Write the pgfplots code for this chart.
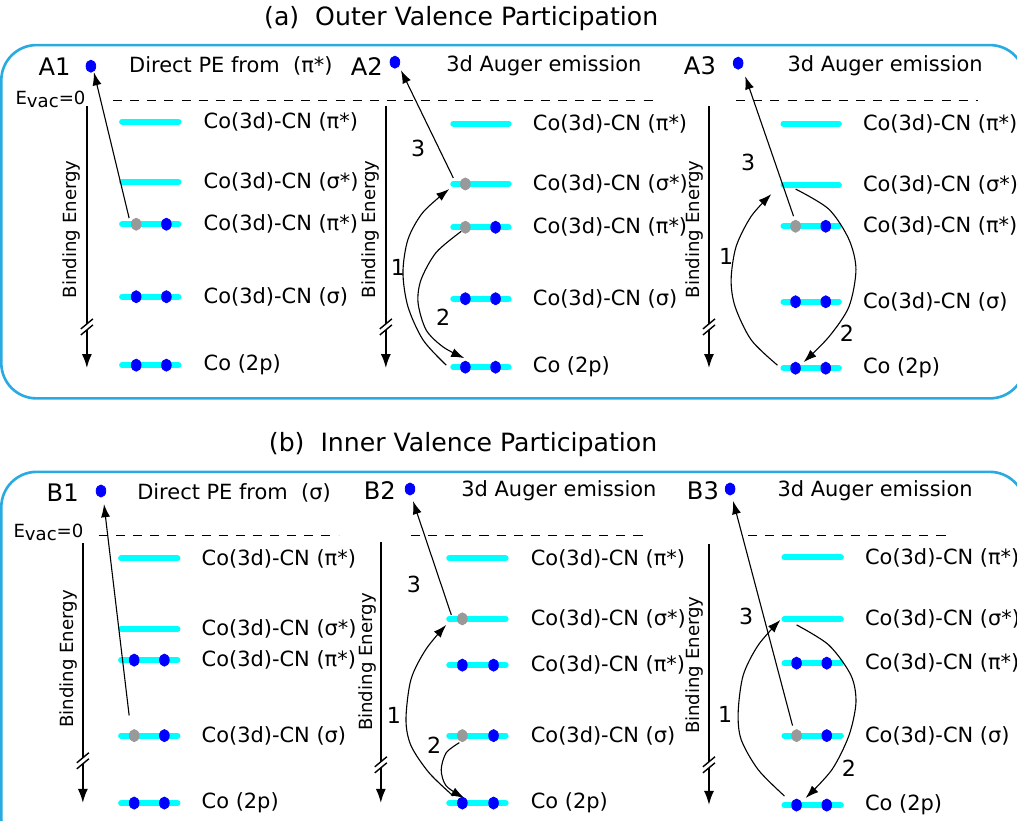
\documentclass[border=0pt]{standalone}
\usepackage{fontspec}
\setmainfont{DejaVu Sans}
\usepackage{pgfplots}
\usepackage{pgfplotstable}
\pgfplotsset{compat=1.18}
\usetikzlibrary{arrows.meta}
\definecolor{boxblue}{HTML}{29ABE2}
\definecolor{lvl}{HTML}{00FFFF}
\definecolor{eblue}{HTML}{0000FF}
\definecolor{hole}{HTML}{999999}

% energy levels: left end x, y, length (picture px, y down)
\pgfplotstableread{
x y w
128 123 56
128 183 56
128 225 56
128 297 56
128 365 56
457 125 55
457 185 55
457 228 55
457 299 55
457 367 55
785 125 55
785 186 55
785 227 55
785 302 55
785 368 55
127 557 56
127 627 56
127 658 56
127 733 56
127 800 56
453 557 56
453 617 56
453 663 56
453 733 56
453 800 56
786 556 56
786 617 56
786 661 56
786 733 56
786 802 56
}\levels

\pgfplotstableread{
x y
97 68
172 225
142 297
172 297
142 365
172 365
399 64
499 228
469 299
499 299
469 367
499 367
740 65
827 227
797 302
827 302
797 368
827 368
107 490
140 658
170 658
170 733
140 800
170 800
414 488
466 663
497 663
497 733
466 800
497 800
732 488
798 661
828 661
828 733
798 802
828 802
}\electrons

\pgfplotstableread{
x y
142 225
469 185
469 228
797 227
140 733
466 617
466 733
798 733
}\holes

% binding energy axes: x, top, length, break position
\pgfplotstableread{
x y len yb
93 108 260 327
390 108 260 327
711 108 260 327
89 542 258 758
385 541 259 762
711 543 259 762
}\baxes

\newcommand\lvfont{\fontsize{10.4}{12}\selectfont}
\newcommand\lbls[6]{%
  \node[anchor=west,font=\lvfont] at (#1,#2) {Co(3d)-CN (π*)};
  \node[anchor=west,font=\lvfont] at (#1,#3) {Co(3d)-CN (σ*)};
  \node[anchor=west,font=\lvfont] at (#1,#4) {Co(3d)-CN (π*)};
  \node[anchor=west,font=\lvfont] at (#1,#5) {Co(3d)-CN (σ)};
  \node[anchor=west,font=\lvfont] at (#1,#6) {Co (2p)};
}
\newcommand\be[2]{\node[rotate=90,font=\fontsize{9}{11}\selectfont] at (#1,#2) {Binding Energy};}
\newcommand\num[3]{\node[font=\fontsize{11}{13}\selectfont] at (#1,#2) {#3};}

\begin{document}
\begin{tikzpicture}
\begin{axis}[
  width=508.5pt, height=408.5pt, scale only axis,
  xmin=0, xmax=1017, ymin=0, ymax=817, y dir=reverse,
  hide axis, clip=true,
  thinarrow/.style={black, line width=0.55pt, -{Latex[length=6.5pt,width=4.5pt]}},
]
% frames
\addplot[boxblue, line width=1.3pt, rounded corners=17.5pt] coordinates {
  (500,47) (1025,47) (1025,398) (8,398) (8,47) (500,47)};
\addplot[boxblue, line width=1.3pt, rounded corners=17.5pt] coordinates {
  (500,471) (1025,471) (1025,850) (8,850) (8,471) (500,471)};

% vacuum level
\addplot[black, line width=0.6pt, dash pattern=on 4.5pt off 4pt] coordinates {(119,102) (655,102)};
\addplot[black, line width=0.6pt, dash pattern=on 4.5pt off 4pt] coordinates {(738,102) (978,102)};
\addplot[black, line width=0.6pt, dash pattern=on 4.5pt off 4pt] coordinates {(105,534) (343,534)};
\addplot[black, line width=0.6pt, dash pattern=on 4.5pt off 4pt] coordinates {(415,534) (652,534)};
\addplot[black, line width=0.6pt, dash pattern=on 4.5pt off 4pt] coordinates {(750,534) (952,534)};

% binding energy axes with break marks
\addplot[black, line width=1pt, -{Latex[length=7pt,width=5pt]},
  quiver={u=0, v=\thisrow{len}}, no markers] table \baxes;
\addplot[white, line width=2.2pt, quiver={u=12, v=-10}, no markers]
  table[x expr=\thisrow{x}-6, y expr=\thisrow{yb}+5] \baxes;
\addplot[black, line width=0.7pt, quiver={u=12, v=-10}, no markers]
  table[x expr=\thisrow{x}-6, y expr=\thisrow{yb}+8] \baxes;
\addplot[black, line width=0.7pt, quiver={u=12, v=-10}, no markers]
  table[x expr=\thisrow{x}-6, y expr=\thisrow{yb}+2] \baxes;

% levels
\addplot[lvl, line width=3pt, line cap=round, quiver={u=\thisrow{w}, v=0}, no markers] table \levels;

% photoelectron arrows
\addplot[thinarrow] coordinates {(135,219) (100,74)};
\addplot[thinarrow] coordinates {(457,179) (405,72)};
\addplot[thinarrow] coordinates {(795,217) (747,78)};
\addplot[thinarrow] coordinates {(135,713) (110,503)};
\addplot[thinarrow] coordinates {(455,613) (417,500)};
\addplot[thinarrow] coordinates {(794,723) (735,500)};

% core excitation (1) and decay (2)
\addplot[thinarrow, smooth] coordinates {(450,365) (427,340) (412,307) (407,273) (412,240) (427,213) (453,190)};
\addplot[thinarrow, smooth] coordinates {(465,232) (440,253) (425,280) (422,303) (430,330) (447,347) (468,358)};
\addplot[thinarrow, smooth] coordinates {(779,365) (753,340) (737,307) (733,280) (738,247) (753,217) (773,195)};
\addplot[thinarrow, smooth] coordinates {(797,190) (830,210) (850,240) (857,270) (850,307) (830,337) (805,362)};
\addplot[thinarrow, smooth] coordinates {(457,793) (433,770) (415,743) (410,717) (415,677) (430,647) (450,623)};
\addplot[thinarrow, smooth] coordinates {(463,740) (450,750) (445,767) (450,783) (468,795)};
\addplot[thinarrow, smooth] coordinates {(786,793) (760,767) (743,737) (740,710) (745,673) (760,643) (782,618)};
\addplot[thinarrow, smooth] coordinates {(798,623) (830,643) (852,673) (857,700) (850,733) (833,767) (807,795)};

% electrons and holes
\addplot[only marks, mark=*, mark size=3pt, mark options={xscale=0.8, draw=eblue, fill=eblue}] table \electrons;
\addplot[only marks, mark=*, mark size=3pt, mark options={xscale=0.8, draw=hole, fill=hole}] table \holes;

% text
\node[anchor=east, inner xsep=0pt, font=\fontsize{12.5}{15}\selectfont] at (661,21) {(a)~~Outer Valence Participation};
\node[anchor=east, inner xsep=0pt, font=\fontsize{12.5}{15}\selectfont] at (660,444) {(b)~~Inner Valence Participation};

\node[font=\fontsize{12}{14}\selectfont] at (61,68) {A1};
\node[font=\fontsize{12}{14}\selectfont] at (371,68) {A2};
\node[font=\fontsize{12}{14}\selectfont] at (702,68) {A3};
\node[font=\fontsize{12}{14}\selectfont] at (69,492) {B1};
\node[font=\fontsize{12}{14}\selectfont] at (384,490) {B2};
\node[font=\fontsize{12}{14}\selectfont] at (705,490) {B3};

\node[anchor=west, font=\lvfont] at (128,68) {Direct PE from~~(π*)};
\node[anchor=west, font=\lvfont] at (443,68) {3d Auger emission};
\node[anchor=west, font=\lvfont] at (782,68) {3d Auger emission};
\node[anchor=west, font=\lvfont] at (136,492) {Direct PE from~~(σ)};
\node[anchor=west, font=\lvfont] at (458,490) {3d Auger emission};
\node[anchor=west, font=\lvfont] at (772,490) {3d Auger emission};

\node[anchor=east, font=\fontsize{9}{11}\selectfont, inner xsep=0pt] at (92,101) {E\raisebox{-1.5pt}{vac}=0};
\node[anchor=east, font=\fontsize{9}{11}\selectfont, inner xsep=0pt] at (90,531) {E\raisebox{-1.5pt}{vac}=0};

\be{78}{230} \be{375}{230} \be{697}{230}
\be{75}{657} \be{372}{660} \be{697}{663}

\lbls{202}{123}{183}{225}{297}{365}
\lbls{529}{125}{185}{228}{299}{367}
\lbls{857}{125}{186}{227}{302}{368}
\lbls{200}{557}{627}{658}{733}{800}
\lbls{527}{557}{617}{663}{733}{800}
\lbls{859}{556}{617}{661}{733}{802}

\num{422}{150}{3} \num{402}{268}{1} \num{447}{317}{2}
\num{750}{164}{3} \num{728}{257}{1} \num{848}{333}{2}
\num{418}{583}{3} \num{398}{713}{1} \num{438}{743}{2}
\num{748}{615}{3} \num{727}{712}{1} \num{850}{765}{2}
\end{axis}
\end{tikzpicture}
\end{document}
